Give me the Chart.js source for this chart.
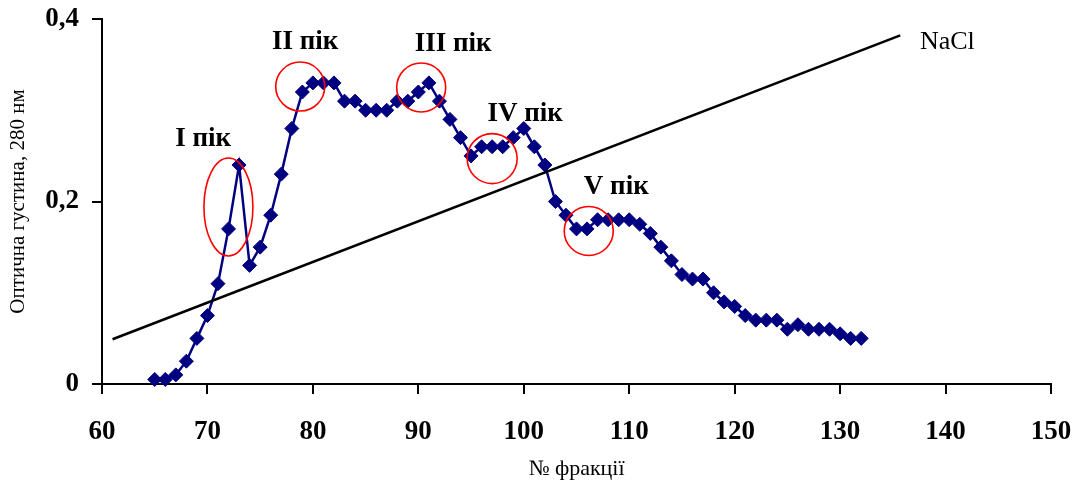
<!DOCTYPE html>
<html>
<head>
<meta charset="utf-8">
<script src="https://cdn.jsdelivr.net/npm/chart.js@4.4.1/dist/chart.umd.min.js"></script>
<style>
  html, body { margin: 0; padding: 0; background: #fff; }
  canvas { display: block; }
</style>
</head>
<body>
<canvas id="c" width="1080" height="486"></canvas>
<script>
// ---- Data ----
const fractions = [65,66,67,68,69,70,71,72,73,74,75,76,77,78,79,80,81,82,83,84,85,86,87,88,89,90,
  91,92,93,94,95,96,97,98,99,100,101,102,103,104,105,106,107,108,109,110,111,112,113,114,115,116,117,
  118,119,120,121,122,123,124,125,126,127,128,129,130,131,132];
const opticalDensity = [0.005,0.005,0.01,0.025,0.05,0.075,0.11,0.17,0.24,0.13,0.15,0.185,0.23,0.28,0.32,0.33,0.33,0.33,
  0.31,0.31,0.30,0.30,0.30,0.31,0.31,0.32,0.33,0.31,0.29,0.27,0.25,0.26,0.26,0.26,0.27,0.28,0.26,0.24,0.20,0.185,
  0.17,0.17,0.18,0.18,0.18,0.18,0.175,0.165,0.15,0.135,0.12,0.115,0.115,0.10,0.09,0.085,0.075,0.07,0.07,0.07,
  0.06,0.065,0.06,0.06,0.06,0.055,0.05,0.05];
const naclX = [61, 135.7];
const naclY = [0.049, 0.382];
const xTicks = [60,70,80,90,100,110,120,130,140,150];
const yTicks = [0, 0.2, 0.4];

// Annotations (data units)
const peakLabels = [
  {text: 'I пік',   x: 69.6,  y: 0.2685},
  {text: 'II пік',  x: 79.26, y: 0.375},
  {text: 'III пік', x: 93.3,  y: 0.3726},
  {text: 'IV пік',  x: 100.13,y: 0.296},
  {text: 'V пік',   x: 108.77,y: 0.216}
];
const peakEllipses = [
  {x: 71.99, y: 0.194, rx: 24.5, ry: 49},
  {x: 78.8,  y: 0.326, rx: 24.5, ry: 24.5},
  {x: 90.27, y: 0.325, rx: 24.5, ry: 24.5},
  {x: 97.0,  y: 0.247, rx: 25,   ry: 25},
  {x: 106.16,y: 0.1677,rx: 24.5, ry: 24.5}
];
const naclLabel = {text: 'NaCl', x: 140.17, y: 0.375};

// ---- Chart ----
const serif = '"Liberation Serif", "Times New Roman", serif';
const mainPoints = fractions.map((f, i) => ({x: f, y: opticalDensity[i]}));
const naclPoints = naclX.map((x, i) => ({x: x, y: naclY[i]}));

const annotationPlugin = {
  id: 'peaks',
  afterDatasetsDraw(chart) {
    const ctx = chart.ctx;
    const xs = chart.scales.x, ys = chart.scales.y;
    ctx.save();
    ctx.strokeStyle = '#ff0000';
    ctx.lineWidth = 1.6;
    peakEllipses.forEach(e => {
      ctx.beginPath();
      ctx.ellipse(xs.getPixelForValue(e.x), ys.getPixelForValue(e.y), e.rx, e.ry, 0, 0, Math.PI * 2);
      ctx.stroke();
    });
    ctx.fillStyle = '#000';
    ctx.textAlign = 'center';
    ctx.textBaseline = 'middle';
    ctx.font = 'bold 27px ' + serif;
    peakLabels.forEach(l => {
      ctx.fillText(l.text, xs.getPixelForValue(l.x), ys.getPixelForValue(l.y));
    });
    ctx.font = '26px ' + serif;
    ctx.fillText(naclLabel.text, xs.getPixelForValue(naclLabel.x), ys.getPixelForValue(naclLabel.y));
    ctx.restore();
  }
};

function noPad(scale) {
  scale.paddingTop = 0; scale.paddingBottom = 0;
  scale.paddingLeft = 0; scale.paddingRight = 0;
}

new Chart(document.getElementById('c'), {
  type: 'scatter',
  data: {
    datasets: [
      {
        label: 'NaCl',
        data: naclPoints,
        showLine: true,
        borderColor: '#000',
        borderWidth: 2.5,
        pointRadius: 0,
        fill: false
      },
      {
        label: 'OD',
        data: mainPoints,
        showLine: true,
        borderColor: '#000080',
        borderWidth: 2.5,
        backgroundColor: '#000080',
        pointStyle: 'rectRot',
        pointRadius: 7,
        pointBorderWidth: 1,
        pointBorderColor: '#000080',
        pointBackgroundColor: '#000080',
        fill: false,
        clip: false
      }
    ]
  },
  options: {
    responsive: false,
    animation: false,
    devicePixelRatio: 1,
    layout: { padding: { top: 19, right: 29, left: 0, bottom: 0 } },
    plugins: { legend: { display: false }, tooltip: { enabled: false } },
    scales: {
      x: {
        type: 'linear',
        min: 60, max: 150,
        afterFit(scale) { scale.height = 102; noPad(scale); },
        afterBuildTicks(scale) { scale.ticks = xTicks.map(v => ({value: v})); },
        ticks: {
          color: '#000',
          font: { family: serif, size: 27, weight: 'bold' },
          padding: 22,
          maxRotation: 0,
          callback: v => String(v)
        },
        grid: { display: true, drawOnChartArea: false, drawTicks: true, tickLength: 10, color: '#000', lineWidth: 2 },
        border: { display: true, color: '#000', width: 2 },
        title: {
          display: true,
          text: '№ фракції',
          color: '#000',
          font: { family: serif, size: 22 },
          padding: { top: 0, bottom: 4 }
        }
      },
      y: {
        type: 'linear',
        min: 0, max: 0.4,
        afterFit(scale) { scale.width = 102; noPad(scale); },
        afterBuildTicks(scale) { scale.ticks = yTicks.map(v => ({value: v})); },
        ticks: {
          color: '#000',
          font: { family: serif, size: 27, weight: 'bold' },
          padding: 13,
          callback: v => String(v).replace('.', ',')
        },
        grid: { display: true, drawOnChartArea: false, drawTicks: true, tickLength: 10, color: '#000', lineWidth: 2 },
        border: { display: true, color: '#000', width: 2 },
        title: {
          display: true,
          text: 'Оптична густина, 280 нм',
          color: '#000',
          font: { family: serif, size: 21 },
          padding: { top: 6, bottom: 0 }
        }
      }
    }
  },
  plugins: [annotationPlugin]
});
</script>
</body>
</html>
